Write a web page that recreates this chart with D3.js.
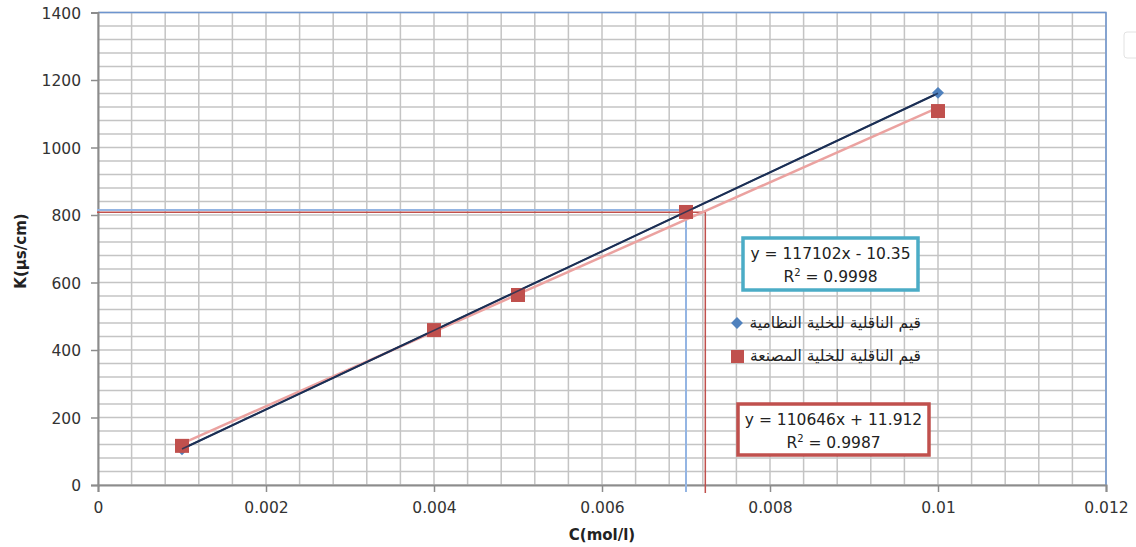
<!DOCTYPE html>
<html><head><meta charset="utf-8">
<script src="https://cdn.jsdelivr.net/npm/d3@7"></script>
<style>body{margin:0;background:#fff}svg{display:block}</style>
</head><body>
<svg id="c" width="1136" height="547"></svg>
<script>
const xVals = [0.001, 0.004, 0.005, 0.007, 0.01];
const seriesNormal = [106, 458, 566, 810, 1162];
const seriesMade = [116, 459, 563, 809, 1108];
const seriesNames = ["قيم الناقلية للخلية النظامية", "قيم الناقلية للخلية المصنعة"];
const trendNormal = {slope: 117102, intercept: -10.35, r2: "0.9998"};
const trendMade = {slope: 110646, intercept: 11.912, r2: "0.9987"};
const eqTexts = ["y = 117102x - 10.35", "y = 110646x + 11.912"];
const xTicks = [0, 0.002, 0.004, 0.006, 0.008, 0.01, 0.012];
const xTickLabels = ["0", "0.002", "0.004", "0.006", "0.008", "0.01", "0.012"];
const yTicks = [0, 200, 400, 600, 800, 1000, 1200, 1400];
const refBlue = {x: 0.007, y: 815};
const refRed = {x: 0.00723, y: 808};

const svg = d3.select("#c");
const x = d3.scaleLinear().domain([0, 0.012]).range([98, 1106]);
const y = d3.scaleLinear().domain([0, 1400]).range([485, 12.5]);

// minor grid
const gx = d3.range(0, 0.01201, 0.0004);
const gy = d3.range(0, 1401, 40);
svg.append("g").selectAll("line").data(gx).join("line")
  .attr("x1", d => x(d)).attr("x2", d => x(d)).attr("y1", y(0)).attr("y2", y(1400))
  .attr("stroke", "#c4c4c4").attr("stroke-width", 1.5);
svg.append("g").selectAll("line").data(gy).join("line")
  .attr("y1", d => y(d)).attr("y2", d => y(d)).attr("x1", x(0)).attr("x2", x(0.012))
  .attr("stroke", "#c4c4c4").attr("stroke-width", 1.5);

// plot border blue (top & right)
svg.append("path").attr("d", `M${x(0)},${y(1400)}H${x(0.012)}V${y(0)}`)
  .attr("fill", "none").attr("stroke", "#6d95cf").attr("stroke-width", 1.5);

// axes
const xAxis = svg.append("g").attr("transform", `translate(0,${y(0)})`)
  .call(d3.axisBottom(x).tickValues(xTicks).tickFormat((d, i) => xTickLabels[i]).tickSize(7).tickPadding(10));
const yAxis = svg.append("g").attr("transform", `translate(${x(0)},0)`)
  .call(d3.axisLeft(y).tickValues(yTicks).tickFormat(d3.format("d")).tickSize(7).tickPadding(10));
[xAxis, yAxis].forEach(a => {
  a.select(".domain").attr("stroke", "#8c8c8c").attr("stroke-width", 2);
  a.selectAll(".tick line").attr("stroke", "#8c8c8c").attr("stroke-width", 1.5);
  a.selectAll("text").attr("font-family", "DejaVu Sans").attr("font-size", 15.5).attr("fill", "#333");
});
yAxis.selectAll("text").attr("dy", "0.36em");

// reference lines
svg.append("path").attr("d", `M${x(0)-1},${y(refBlue.y)}H${x(refBlue.x)}V${y(0)+7}`)
  .attr("fill", "none").attr("stroke", "#94b5e3").attr("stroke-width", 2);
svg.append("path").attr("d", `M${x(0)-1},${y(refRed.y)}H${x(refRed.x)}V${y(0)+8}`)
  .attr("fill", "none").attr("stroke", "#c0504d").attr("stroke-width", 1.5);

// trendlines
const xr = [0.001, 0.01];
svg.append("line")
  .attr("x1", x(xr[0])).attr("y1", y(trendMade.slope * xr[0] + trendMade.intercept))
  .attr("x2", x(xr[1])).attr("y2", y(trendMade.slope * xr[1] + trendMade.intercept))
  .attr("stroke", "#eba2a0").attr("stroke-width", 2.5);
svg.append("line")
  .attr("x1", x(xr[0])).attr("y1", y(trendNormal.slope * xr[0] + trendNormal.intercept))
  .attr("x2", x(xr[1])).attr("y2", y(trendNormal.slope * xr[1] + trendNormal.intercept))
  .attr("stroke", "#1b2f55").attr("stroke-width", 2);

// markers
const diamond = d3.symbol().type(d3.symbolDiamond2).size(90);
svg.append("g").selectAll("path").data(xVals).join("path")
  .attr("d", diamond).attr("transform", (d, i) => `translate(${x(d)},${y(seriesNormal[i])})`)
  .attr("fill", "#4f81bd");
svg.append("g").selectAll("rect").data(xVals).join("rect")
  .attr("x", d => x(d) - 7).attr("y", (d, i) => y(seriesMade[i]) - 7)
  .attr("width", 14).attr("height", 14).attr("fill", "#c0504d");
svg.append("line")
  .attr("x1", x(xr[0])).attr("y1", y(trendNormal.slope * xr[0] + trendNormal.intercept))
  .attr("x2", x(xr[1])).attr("y2", y(trendNormal.slope * xr[1] + trendNormal.intercept))
  .attr("stroke", "#1b2f55").attr("stroke-width", 1.5).attr("opacity", 0.8);

// legend
const lg = svg.append("g");
lg.append("path").attr("d", diamond).attr("transform", "translate(737,323)").attr("fill", "#4f81bd");
lg.append("rect").attr("x", 731).attr("y", 350).attr("width", 13).attr("height", 13).attr("fill", "#c0504d");
lg.selectAll("text").data(seriesNames).join("text")
  .attr("x", 921).attr("y", (d, i) => 328 + i * 33)
  .attr("text-anchor", "end").attr("font-family", "DejaVu Sans").attr("font-size", 15.5)
  .attr("fill", "#222").text(d => d);

// equation boxes
function eqBox(bx, by, bw, bh, col, line1, r2) {
  const g = svg.append("g");
  g.append("rect").attr("x", bx).attr("y", by).attr("width", bw).attr("height", bh)
    .attr("fill", "#fff").attr("stroke", col).attr("stroke-width", 3.5);
  const t = g.append("text").attr("font-family", "DejaVu Sans").attr("font-size", 15.5)
    .attr("fill", "#222").attr("text-anchor", "middle");
  t.append("tspan").attr("x", bx + bw / 2).attr("y", by + 21).text(line1);
  const t2 = t.append("tspan").attr("x", bx + bw / 2).attr("y", by + 44);
  t2.append("tspan").text("R");
  t2.append("tspan").attr("font-size", 10).attr("dy", -6).text("2");
  t2.append("tspan").attr("dy", 6).text(" = " + r2);
}
eqBox(743, 238, 175, 52, "#4bacc6", eqTexts[0], trendNormal.r2);
eqBox(738, 404, 191, 51, "#c0504d", eqTexts[1], trendMade.r2);

// axis titles
svg.append("text").attr("x", 602).attr("y", 540).attr("text-anchor", "middle")
  .attr("font-family", "DejaVu Sans").attr("font-weight", "bold").attr("font-size", 15).attr("fill", "#222")
  .text("C(mol/l)");
svg.append("text").attr("transform", "translate(26,251) rotate(-90)").attr("text-anchor", "middle")
  .attr("font-family", "DejaVu Sans").attr("font-weight", "bold").attr("font-size", 15).attr("fill", "#222")
  .text("K(µs/cm)");

// faint artifact at right edge
svg.append("rect").attr("x", 1124).attr("y", 32).attr("width", 20).attr("height", 26).attr("rx", 3)
  .attr("fill", "#fff").attr("stroke", "#e2e2e2");
</script>
</body></html>
